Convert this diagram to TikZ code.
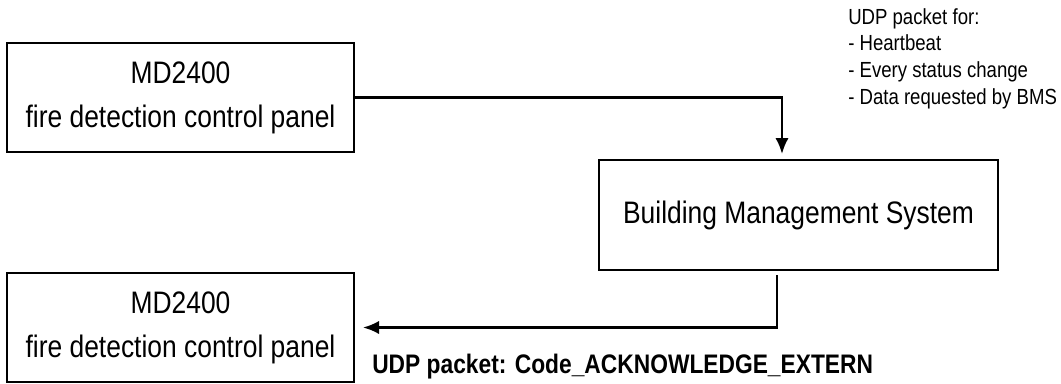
\documentclass[tikz,border=0pt]{standalone}
\usepackage{fontspec}
\setmainfont{Liberation Sans}[FakeStretch=0.85]
\usetikzlibrary{arrows.meta}

\tikzset{
    panel/.style={draw, line width=1.8pt, align=center, inner sep=0pt,
        minimum width=260pt, minimum height=81.75pt,
        font=\fontsize{23.3}{33}\selectfont},
    bmsbox/.style={draw, line width=1.8pt, align=center, inner sep=0pt,
        minimum width=299pt, minimum height=82.5pt,
        font=\fontsize{23.3}{27}\selectfont},
    packet/.style={line width=1.8pt, -{Latex[length=12pt,width=10pt]}},
}

\begin{document}
\begin{tikzpicture}[x={(0.75pt,0)}, y={(0,-0.75pt)}]

    % picture frame (pixel grid of the figure)
    \useasboundingbox (0,0) rectangle (1061,383);

    % control panels and BMS
    \node[panel] (panel1) at (180.5,97.5) {MD2400\\fire detection control panel};
    \node[bmsbox] (bms) at (798.5,215) {Building Management System};
    \node[panel] (panel2) at (180.5,327.5) {MD2400\\fire detection control panel};

    % where the packets enter and leave the BMS
    \coordinate (bmsin) at (782,160);
    \coordinate (bmsout) at (777,270);

    % UDP packets
    \draw[packet, shorten >=4.5pt] (panel1.east) -| (bmsin);
    \draw[packet, shorten <=4pt, shorten >=6pt] (bmsout) |- (panel2.east);

    % packet labels
    \node[anchor=north west, inner sep=0pt, align=left,
        font=\fontsize{16.4}{20}\selectfont] (udpfor) at (848,8)
        {UDP packet for:\\- Heartbeat\\- Every status change\\- Data requested by BMS};
    \node[anchor=base west, inner sep=0pt, font=\fontsize{20.1}{22}\selectfont\bfseries]
        (udpack) at (372,373) {UDP packet: Code\_ACKNOWLEDGE\_EXTERN};

\end{tikzpicture}
\end{document}
